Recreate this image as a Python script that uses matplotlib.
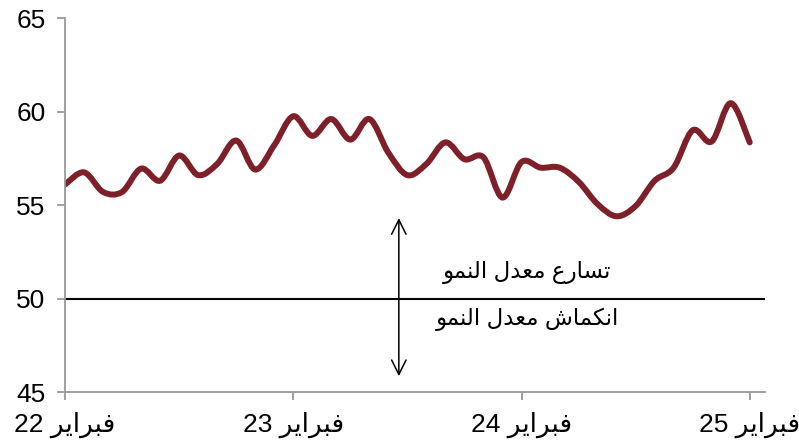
import matplotlib
matplotlib.use('Agg')
import matplotlib.pyplot as plt
from matplotlib.path import Path
from matplotlib.patches import PathPatch
import numpy as np

plt.rcParams['font.family'] = ['Liberation Sans', 'DejaVu Sans']

# Data: monthly index, Feb 2022 .. Feb 2025
values = [56.1, 56.75, 55.7, 55.7, 56.95, 56.3, 57.65, 56.6, 57.2, 58.45,
          56.9, 58.2, 59.75, 58.7, 59.6, 58.5, 59.6, 57.8, 56.6, 57.2,
          58.35, 57.45, 57.55, 55.4, 57.3, 57.0, 57.0, 56.25, 55.05, 54.4,
          54.95, 56.3, 57.0, 59.0, 58.4, 60.45, 58.35]
tick_pos = [0, 12, 24, 36]
tick_years = ['22', '23', '24', '25']
y_ticks = [45, 50, 55, 60, 65]
threshold = 50
arrow_month = 17.55
arrow_span = (45.7, 54.45)
label_up = 'تسارع معدل النمو'
label_down = 'انكماش معدل النمو'
month_word = 'فبراير'

# Arabic shaping (presentation forms) since matplotlib has no text shaping
# letter: (isolated, final, initial, medial) ; 2 forms = joins only to the right
FORMS = {
    'ا': (0xFE8D, 0xFE8E), 'د': (0xFEA9, 0xFEAA), 'ر': (0xFEAD, 0xFEAE),
    'و': (0xFEED, 0xFEEE),
    'ب': (0xFE8F, 0xFE90, 0xFE91, 0xFE92), 'ت': (0xFE95, 0xFE96, 0xFE97, 0xFE98),
    'س': (0xFEB1, 0xFEB2, 0xFEB3, 0xFEB4), 'ش': (0xFEB5, 0xFEB6, 0xFEB7, 0xFEB8),
    'ع': (0xFEC9, 0xFECA, 0xFECB, 0xFECC), 'ف': (0xFED1, 0xFED2, 0xFED3, 0xFED4),
    'ك': (0xFED9, 0xFEDA, 0xFEDB, 0xFEDC), 'ل': (0xFEDD, 0xFEDE, 0xFEDF, 0xFEE0),
    'م': (0xFEE1, 0xFEE2, 0xFEE3, 0xFEE4), 'ن': (0xFEE5, 0xFEE6, 0xFEE7, 0xFEE8),
    'ي': (0xFEF1, 0xFEF2, 0xFEF3, 0xFEF4),
}


def shape_word(word):
    out = []
    for i, ch in enumerate(word):
        f = FORMS[ch]
        prev_joins = i > 0 and len(FORMS[word[i - 1]]) == 4
        next_joins = i < len(word) - 1 and len(f) == 4
        if prev_joins and next_joins:
            code = f[3]
        elif prev_joins:
            code = f[1]
        elif next_joins:
            code = f[2]
        else:
            code = f[0]
        out.append(chr(code))
    return ''.join(reversed(out))


def shape(text):
    return ' '.join(shape_word(w) for w in reversed(text.split()))


# smooth line (Catmull-Rom -> bezier), like excel smoothed lines
def smooth_path(x, y):
    pts = np.column_stack([x, y])
    ext = np.vstack([pts[0], pts, pts[-1]])
    verts = [pts[0]]
    codes = [Path.MOVETO]
    for i in range(len(pts) - 1):
        p0, p1, p2, p3 = ext[i], ext[i + 1], ext[i + 2], ext[i + 3]
        verts += [p1 + (p2 - p0) / 6, p2 - (p3 - p1) / 6, p2]
        codes += [Path.CURVE4] * 3
    return Path(verts, codes)


fig = plt.figure(figsize=(7.99, 4.46), dpi=100)
ax = fig.add_axes([0.0814, 0.121, 0.876, 0.8385])

months = np.arange(len(values))
patch = PathPatch(smooth_path(months, values), facecolor='none',
                  edgecolor='#7d2029', lw=4.3, capstyle='round', joinstyle='round')
ax.add_patch(patch)

ax.axhline(threshold, color='black', lw=1.5)
ax.annotate('', xy=(arrow_month, arrow_span[1]), xytext=(arrow_month, arrow_span[0]),
            arrowprops=dict(arrowstyle='<->', color='black', lw=1.1, mutation_scale=26))

ax.text(24.3, 51.4, shape(label_up), ha='center', va='center', fontsize=16.5)
ax.text(24.3, 48.9, shape(label_down), ha='center', va='center', fontsize=16.5)

ax.set_xlim(0, 36.8)
ax.set_ylim(45, 65)
ax.set_yticks(y_ticks)
ax.set_xticks(tick_pos)
ax.set_xticklabels([f'{yy} {shape_word(month_word)}' for yy in tick_years])

for s in ['top', 'right']:
    ax.spines[s].set_visible(False)
for s in ['left', 'bottom']:
    ax.spines[s].set_color('#999999')
    ax.spines[s].set_linewidth(1.3)
ax.tick_params(axis='both', colors='#999999', length=6, width=1.3, labelcolor='black',
               labelsize=19)
ax.tick_params(axis='y', pad=8)
ax.tick_params(axis='x', pad=8)

fig.savefig('out.png', dpi=100)
